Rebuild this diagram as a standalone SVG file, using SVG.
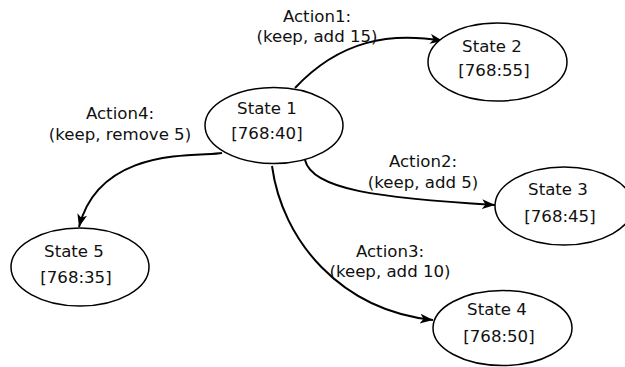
<svg xmlns="http://www.w3.org/2000/svg" width="625" height="367" viewBox="0 0 625 367">
  <style>
    .state ellipse { fill: #ffffff; stroke: #000000; stroke-width: 1.5; }
    text { font-family: "DejaVu Sans", sans-serif; font-size: 16.6px; fill: #111111; text-anchor: middle; }
    .edge { fill: none; stroke: #000000; stroke-width: 2; marker-end: url(#arrow); }
  </style>
  <defs>
    <marker id="arrow" markerUnits="userSpaceOnUse" markerWidth="16" markerHeight="12" refX="13" refY="5" orient="auto">
      <path d="M0,0 L13,5 L0,10 L3.5,5 Z" fill="#000000"/>
    </marker>
  </defs>
  <rect width="625" height="367" fill="#ffffff"/>

  <!-- transitions -->
  <g id="edges">
    <path class="edge" d="M295,88 C340,40 390,32 443,41"/>
    <path class="edge" d="M305,160 C312,190 380,198 495,205"/>
    <path class="edge" d="M272,166 C282,240 340,310 433,320"/>
    <path class="edge" d="M222,153 C200,157 100,145 79,227"/>
    <text x="317" y="22">Action1:</text>
    <text x="317" y="42">(keep, add 15)</text>
    <text x="423" y="167">Action2:</text>
    <text x="423" y="188">(keep, add 5)</text>
    <text x="390" y="257">Action3:</text>
    <text x="390" y="277">(keep, add 10)</text>
    <text x="120" y="119">Action4:</text>
    <text x="120" y="140">(keep, remove 5)</text>
  </g>

  <g id="state1" class="state">
    <ellipse cx="274" cy="125.5" rx="69" ry="38"/>
    <text x="267" y="114">State 1</text>
    <text x="267" y="139">[768:40]</text>
  </g>
  <g id="state2" class="state">
    <ellipse cx="497.5" cy="62" rx="69.5" ry="39"/>
    <text x="492" y="52">State 2</text>
    <text x="494" y="76">[768:55]</text>
  </g>
  <g id="state3" class="state">
    <ellipse cx="564" cy="206" rx="69" ry="39"/>
    <text x="558" y="195">State 3</text>
    <text x="560" y="222">[768:45]</text>
  </g>
  <g id="state4" class="state">
    <ellipse cx="502.5" cy="328" rx="69.5" ry="37.5"/>
    <text x="497" y="315">State 4</text>
    <text x="499" y="342">[768:50]</text>
  </g>
  <g id="state5" class="state">
    <ellipse cx="80" cy="267" rx="69" ry="39"/>
    <text x="74" y="257">State 5</text>
    <text x="76" y="283">[768:35]</text>
  </g>
</svg>
